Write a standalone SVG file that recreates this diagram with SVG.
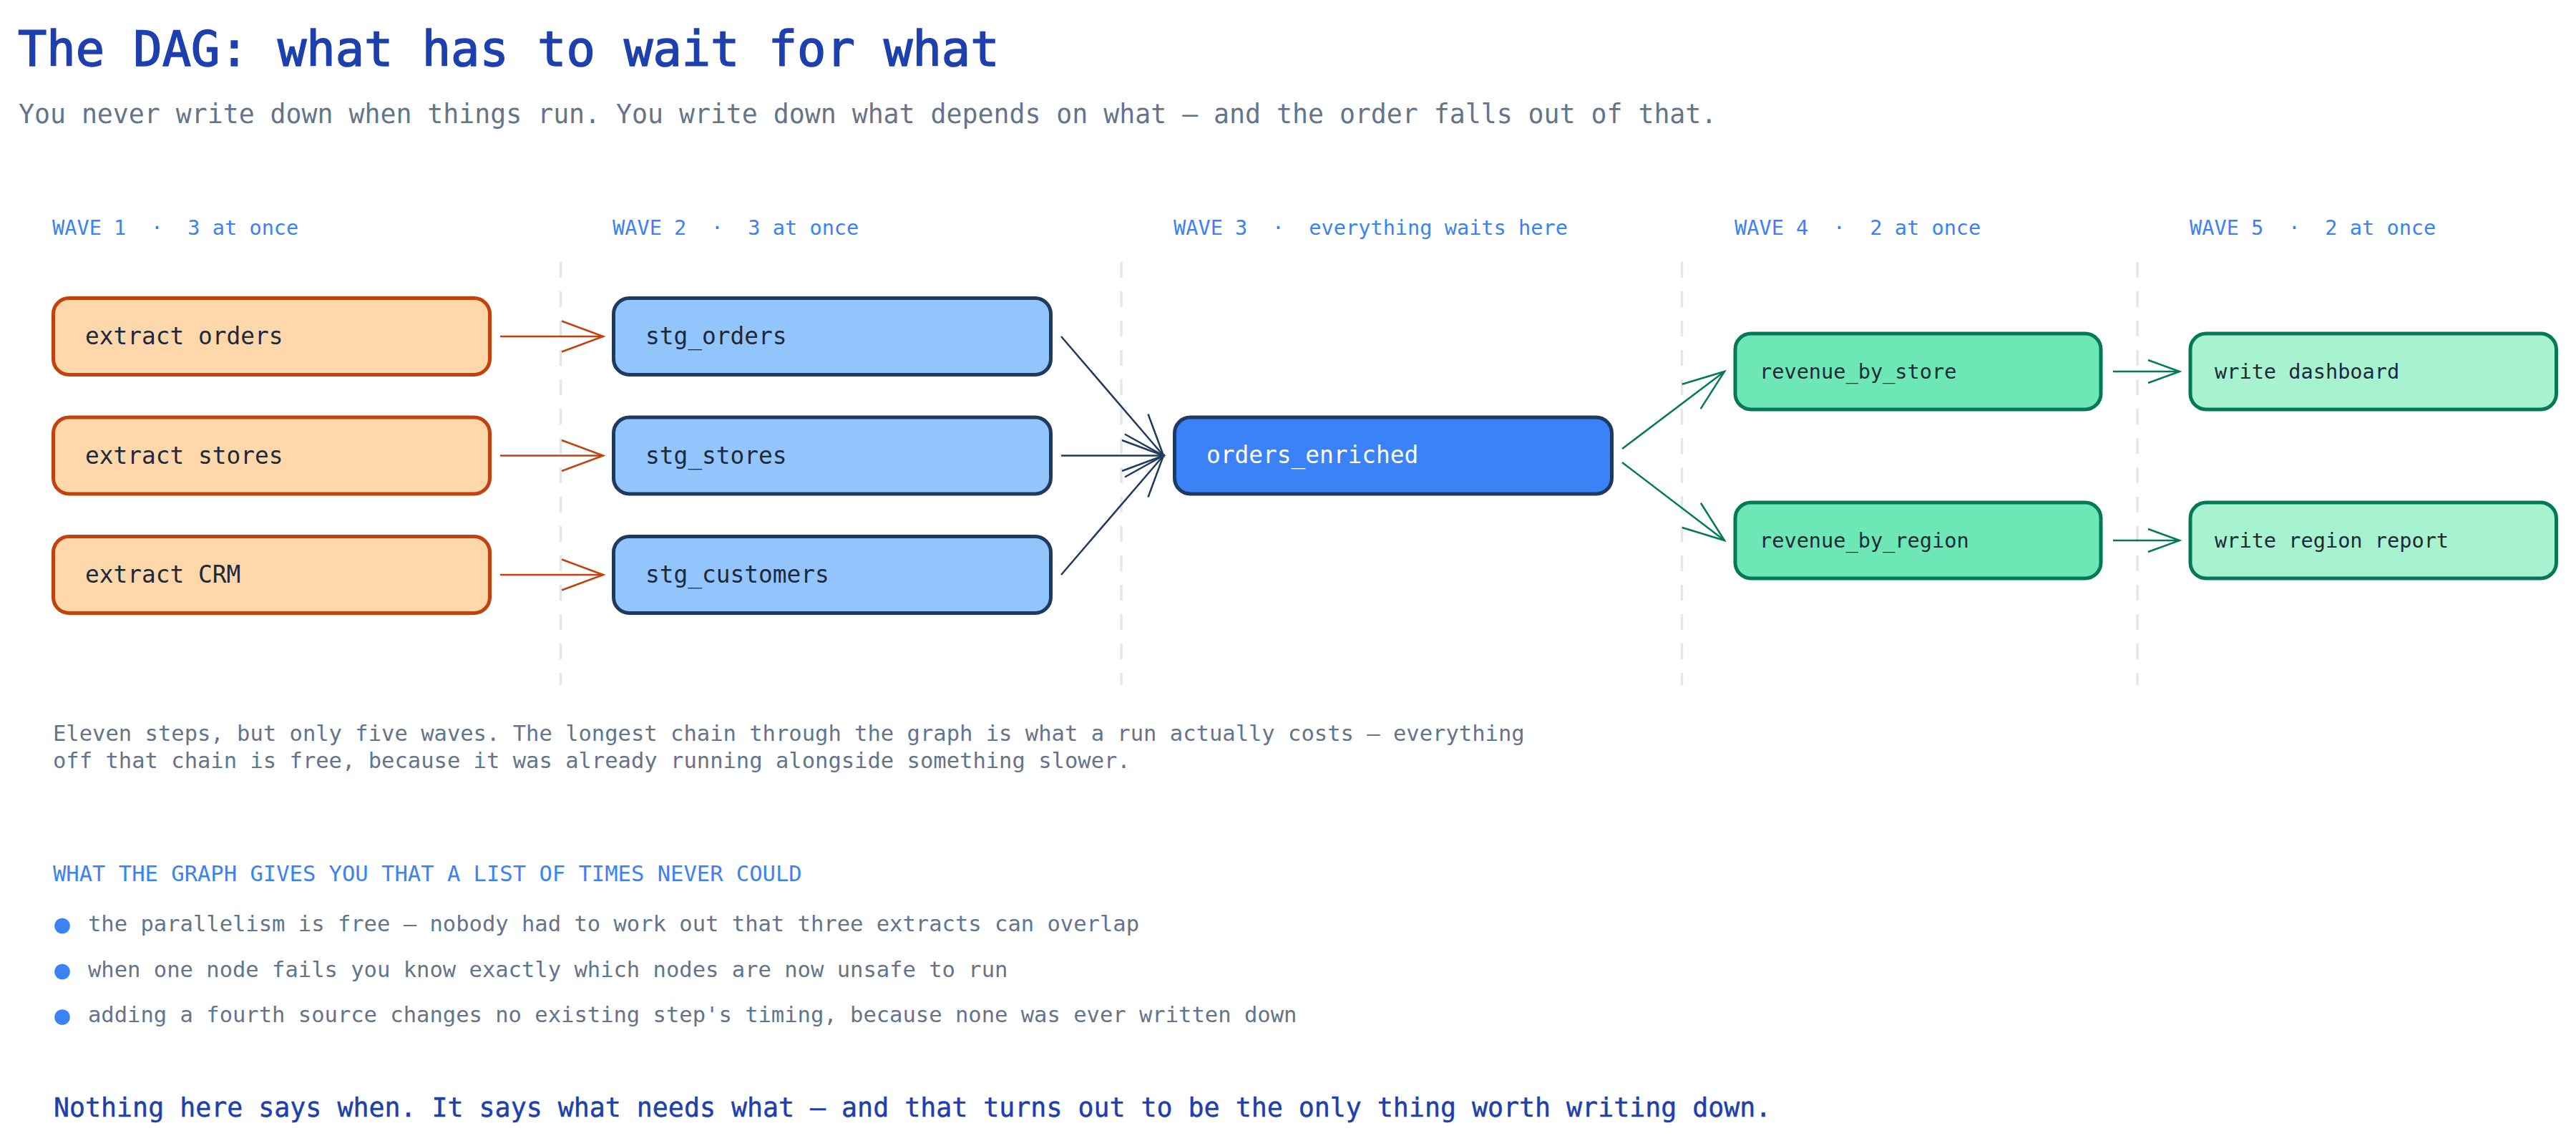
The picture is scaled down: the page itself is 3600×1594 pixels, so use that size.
<svg xmlns="http://www.w3.org/2000/svg" width="3600" height="1594" viewBox="0 0 3600 1594">
<style>
text { font-family: 'DejaVu Sans Mono', 'Liberation Mono', monospace; }
.title { font-size: 67px; font-weight: normal; fill: #1e40af; stroke: #1e40af; stroke-width: 1.6px; }
.sub { font-size: 36.5px; fill: #64748b; }
.wave { font-size: 28.6px; fill: #3b82f6; white-space: pre; }
.lbl { font-size: 32.8px; fill: #1e293b; }
.lbl-w { font-size: 32.8px; fill: #ffffff; }
.lbl-s { font-size: 28.6px; fill: #1e293b; }
.body { font-size: 30.5px; fill: #64748b; }
.head { font-size: 30.5px; fill: #3b82f6; }
.foot { font-size: 36.6px; fill: #1e40af; stroke: #1e40af; stroke-width: 0.5px; }
.divider { stroke: #e2e8f0; stroke-width: 3.5; stroke-dasharray: 22 19; fill: none; }
.extract rect { fill: #fed7aa; stroke: #c2410c; stroke-width: 5; }
.stg rect { fill: #93c5fd; stroke: #1e3a5f; stroke-width: 5; }
.core rect { fill: #3b82f6; stroke: #1e3a5f; stroke-width: 5; }
.mart rect { fill: #6ee7b7; stroke: #047857; stroke-width: 5; }
.out rect { fill: #a7f3d0; stroke: #047857; stroke-width: 5; }
.e-or { stroke: #c2410c; stroke-width: 2.5; fill: none; marker-end: url(#ah-or); }
.e-nv { stroke: #1e3a5f; stroke-width: 2.5; fill: none; marker-end: url(#ah-nv); }
.e-gr { stroke: #047857; stroke-width: 2.5; fill: none; marker-end: url(#ah-gr); }
.e-gs { stroke: #047857; stroke-width: 2.5; fill: none; marker-end: url(#ah-gs); }
.bullet { fill: #3b82f6; }
</style>
<defs>
<marker id="ah-or" markerUnits="userSpaceOnUse" viewBox="-64 -28 70 56" markerWidth="70" markerHeight="56" refX="0" refY="0" orient="auto" overflow="visible">
<path d="M-58,-21.5 L0,0 L-58,21.5" fill="none" stroke="#c2410c" stroke-width="2.5"/>
</marker>
<marker id="ah-nv" markerUnits="userSpaceOnUse" viewBox="-64 -28 70 56" markerWidth="70" markerHeight="56" refX="0" refY="0" orient="auto" overflow="visible">
<path d="M-58,-21.5 L0,0 L-58,21.5" fill="none" stroke="#1e3a5f" stroke-width="2.5"/>
</marker>
<marker id="ah-gr" markerUnits="userSpaceOnUse" viewBox="-64 -28 70 56" markerWidth="70" markerHeight="56" refX="0" refY="0" orient="auto" overflow="visible">
<path d="M-58,-21.5 L0,0 L-58,21.5" fill="none" stroke="#047857" stroke-width="2.5"/>
</marker>
<marker id="ah-gs" markerUnits="userSpaceOnUse" viewBox="-64 -28 70 56" markerWidth="70" markerHeight="56" refX="0" refY="0" orient="auto" overflow="visible">
<path d="M-44,-16 L0,0 L-44,16" fill="none" stroke="#047857" stroke-width="2.5"/>
</marker>
</defs>

<rect x="0" y="0" width="3600" height="1594" fill="#ffffff"/>

<g id="header">
<text class="title" x="25" y="92">The DAG: what has to wait for what</text>
<text class="sub" x="26" y="172">You never write down when things run. You write down what depends on what — and the order falls out of that.</text>
</g>

<g id="wave-labels">
<text class="wave" x="73" y="328" xml:space="preserve">WAVE 1  ·  3 at once</text>
<text class="wave" x="856" y="328" xml:space="preserve">WAVE 2  ·  3 at once</text>
<text class="wave" x="1640" y="328" xml:space="preserve">WAVE 3  ·  everything waits here</text>
<text class="wave" x="2424" y="328" xml:space="preserve">WAVE 4  ·  2 at once</text>
<text class="wave" x="3060" y="328" xml:space="preserve">WAVE 5  ·  2 at once</text>
</g>

<g id="dividers">
<line class="divider" x1="783.5" y1="366" x2="783.5" y2="957"/>
<line class="divider" x1="1567" y1="366" x2="1567" y2="957"/>
<line class="divider" x1="2350.5" y1="366" x2="2350.5" y2="957"/>
<line class="divider" x1="2987" y1="366" x2="2987" y2="957"/>
</g>

<g id="connectors">
<line class="e-or" x1="699" y1="470" x2="843" y2="470"/>
<line class="e-or" x1="699" y1="636.5" x2="843" y2="636.5"/>
<line class="e-or" x1="699" y1="803" x2="843" y2="803"/>
<line class="e-nv" x1="1483" y1="470" x2="1626" y2="636.5"/>
<line class="e-nv" x1="1483" y1="636.5" x2="1626" y2="636.5"/>
<line class="e-nv" x1="1483" y1="803" x2="1626" y2="636.5"/>
<line class="e-gr" x1="2267" y1="627" x2="2410" y2="519"/>
<line class="e-gr" x1="2267" y1="646" x2="2410" y2="755"/>
<line class="e-gs" x1="2953" y1="519" x2="3046" y2="519"/>
<line class="e-gs" x1="2953" y1="755" x2="3046" y2="755"/>
</g>

<g id="extract-orders" class="extract">
<rect x="74.5" y="416.5" width="610" height="107" rx="22"/>
<text class="lbl" x="119" y="481">extract orders</text>
</g>
<g id="extract-stores" class="extract">
<rect x="74.5" y="583" width="610" height="107" rx="22"/>
<text class="lbl" x="119" y="647.5">extract stores</text>
</g>
<g id="extract-crm" class="extract">
<rect x="74.5" y="749.5" width="610" height="107" rx="22"/>
<text class="lbl" x="119" y="814">extract CRM</text>
</g>

<g id="stg-orders" class="stg">
<rect x="857.5" y="416.5" width="611" height="107" rx="22"/>
<text class="lbl" x="902" y="481">stg_orders</text>
</g>
<g id="stg-stores" class="stg">
<rect x="857.5" y="583" width="611" height="107" rx="22"/>
<text class="lbl" x="902" y="647.5">stg_stores</text>
</g>
<g id="stg-customers" class="stg">
<rect x="857.5" y="749.5" width="611" height="107" rx="22"/>
<text class="lbl" x="902" y="814">stg_customers</text>
</g>

<g id="orders-enriched" class="core">
<rect x="1641.5" y="583" width="611" height="107" rx="22"/>
<text class="lbl-w" x="1686" y="647">orders_enriched</text>
</g>

<g id="revenue-by-store" class="mart">
<rect x="2425" y="466" width="511" height="106" rx="22"/>
<text class="lbl-s" x="2459" y="528.5">revenue_by_store</text>
</g>
<g id="revenue-by-region" class="mart">
<rect x="2425" y="702" width="511" height="106" rx="22"/>
<text class="lbl-s" x="2459" y="764.5">revenue_by_region</text>
</g>

<g id="write-dashboard" class="out">
<rect x="3061" y="466" width="511.5" height="106" rx="22"/>
<text class="lbl-s" x="3095" y="528.5">write dashboard</text>
</g>
<g id="write-region-report" class="out">
<rect x="3061" y="702" width="511.5" height="106" rx="22"/>
<text class="lbl-s" x="3095" y="764.5">write region report</text>
</g>

<g id="notes">
<text class="body" x="74" y="1035">Eleven steps, but only five waves. The longest chain through the graph is what a run actually costs — everything</text>
<text class="body" x="74" y="1073">off that chain is free, because it was already running alongside something slower.</text>
<text class="head" x="74" y="1231">WHAT THE GRAPH GIVES YOU THAT A LIST OF TIMES NEVER COULD</text>
<circle class="bullet" cx="87" cy="1293.5" r="10.8"/>
<text class="body" x="123" y="1300.5">the parallelism is free — nobody had to work out that three extracts can overlap</text>
<circle class="bullet" cx="87" cy="1357.5" r="10.8"/>
<text class="body" x="123" y="1364.5">when one node fails you know exactly which nodes are now unsafe to run</text>
<circle class="bullet" cx="87" cy="1421" r="10.8"/>
<text class="body" x="123" y="1428">adding a fourth source changes no existing step's timing, because none was ever written down</text>
<text class="foot" x="75" y="1560">Nothing here says when. It says what needs what — and that turns out to be the only thing worth writing down.</text>
</g>
</svg>
